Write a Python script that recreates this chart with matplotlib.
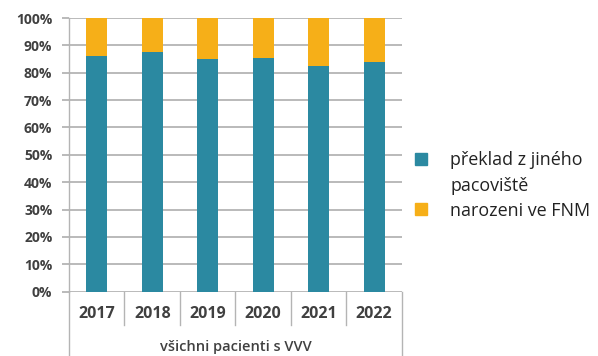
import matplotlib.pyplot as plt
import matplotlib.transforms as mtransforms
from matplotlib.ticker import FuncFormatter, MultipleLocator

years = ["2017", "2018", "2019", "2020", "2021", "2022"]
preklad = [86.0, 87.6, 84.9, 85.4, 82.5, 84.0]
narozeni = [100 - v for v in preklad]
group_label = "všichni pacienti s VVV"
legend_lines = ["překlad z jiného", "pacoviště", "narozeni ve FNM"]

TEAL = "#2B89A1"
ORANGE = "#F6AF18"
GRID = "#B4B4B4"
TEXT = "#404040"

plt.rcParams["font.family"] = ["Open Sans", "DejaVu Sans"]

fig = plt.figure(figsize=(5.98, 3.56), dpi=100)
ax = fig.add_axes([0.1154, 0.1806, 0.5566, 0.7688])

x = range(len(years))
ax.bar(x, preklad, width=0.38, color=TEAL, zorder=3)
ax.bar(x, narozeni, width=0.38, bottom=preklad, color=ORANGE, zorder=3)

ax.set_xlim(-0.5, len(years) - 0.5)
ax.set_ylim(0, 100)
ax.yaxis.set_major_locator(MultipleLocator(10))
ax.yaxis.set_major_formatter(FuncFormatter(lambda v, _: f"{v:.0f}%"))
ax.grid(axis="y", color=GRID, linewidth=1.3, zorder=0)

for side in ["top", "right", "bottom"]:
    ax.spines[side].set_visible(False)
ax.spines["left"].set_color(GRID)
ax.spines["left"].set_linewidth(1.0)

ax.tick_params(axis="y", length=5, width=1.3, color=GRID, pad=7,
               labelsize=10, labelcolor=TEXT)
ax.tick_params(axis="x", length=0, pad=0, labelbottom=False)
for lbl in ax.get_yticklabels():
    lbl.set_fontweight("bold")

# two-level category axis below the plot
trans = mtransforms.blended_transform_factory(ax.transData, ax.transAxes)
for i, yr in enumerate(years):
    ax.text(i, -0.083, yr, transform=trans, ha="center", va="center",
            fontsize=11.5, color=TEXT, fontweight="bold", clip_on=False)
edges = [i - 0.5 for i in range(len(years) + 1)]
for e in edges:
    outer = e in (edges[0], edges[-1])
    ax.plot([e, e], [0, -0.26 if outer else -0.122], transform=trans,
            color=GRID, linewidth=1.0, clip_on=False, zorder=1)
ax.text((len(years) - 1) / 2, -0.203, group_label, transform=trans,
        ha="center", va="center", fontsize=10.5, color=TEXT,
        fontweight="semibold", clip_on=False)

# legend
for y_px, col in [(159, TEAL), (209, ORANGE)]:
    fig.patches.append(plt.Rectangle((415 / 598, 1 - (y_px + 6) / 356),
                                     12 / 598, 12 / 356,
                                     transform=fig.transFigure, color=col))
for y_px, line in zip([160, 186, 211], legend_lines):
    fig.text(450 / 598, 1 - y_px / 356, line, fontsize=12.9,
             color="#222222", va="center")

fig.savefig("out.png", dpi=100)
